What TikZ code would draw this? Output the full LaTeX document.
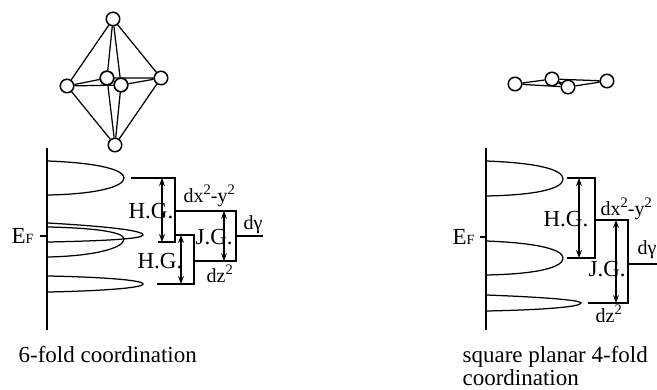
\documentclass[tikz,border=0pt]{standalone}
\usepackage{fontspec}
\setmainfont{Liberation Serif}
\usetikzlibrary{arrows.meta}
\newcommand{\sqr}{\raisebox{8.5pt}{\fontsize{14.5}{14.5}\selectfont 2}}

\begin{document}
\begin{tikzpicture}[>=Stealth, x=1pt, y=-1pt, line width=1.25pt,
    atom/.style={circle,draw,fill=white,inner sep=0pt,minimum size=13.5pt,line width=1.5pt},
    lbl/.style={anchor=base west,inner sep=0pt,font=\fontsize{20}{20}\selectfont},
    gaplbl/.style={anchor=base west,inner sep=0pt,font=\fontsize{23}{23}\selectfont},
    captext/.style={anchor=base west,inner sep=0pt,font=\fontsize{23}{23}\selectfont},
    gap/.style={<->,line width=1.1pt}]
  \useasboundingbox (0,0) rectangle (657,390);
  \clip (0,0) rectangle (657,390);
  % octahedron (left)
  \node[atom] (top) at (113,19) {};
  \node[atom] (bot) at (115,145) {};
  \node[atom] (lft) at (67,86) {};
  \node[atom] (rgt) at (161,78) {};
  \node[atom] (bck) at (107,78) {};
  \node[atom] (frt) at (121,85) {};
  \draw (top)--(lft) (top)--(rgt) (top)--(bck) (top)--(frt);
  \draw (bot)--(lft) (bot)--(rgt) (bot)--(bck) (bot)--(frt);
  \draw (lft)--(bck) (lft)--(frt) (rgt)--(bck) (rgt)--(frt) (bck)--(frt);
  \node[atom] (bck2) at (107,78) {};
  \node[atom] (frt2) at (121,85) {};
  % square planar (right)
  \node[atom] (sl) at (515,84) {};
  \node[atom] (sb) at (552,79) {};
  \node[atom] (sf) at (568,87) {};
  \node[atom] (sr) at (607,81) {};
  \draw (sl)--(sb) (sl)--(sf) (sb)--(sr) (sf)--(sr);
  \draw[line width=2.5pt] (sb)--(sf);
  % DOS axis, 6-fold
  \coordinate (ax1) at (47,148);
  \coordinate (ax2) at (47,330);
  \draw (ax1)--(ax2);
  \draw (48,161) .. controls (100,163) and (124,170) .. (124,178) .. controls (124,186) and (100,194) .. (48,195);
  \draw (48,223) .. controls (100,226) and (143,230) .. (143,235) .. controls (143,239) and (100,241) .. (48,242);
  \draw (48,227) .. controls (95,228) and (124,232) .. (124,239) .. controls (124,248) and (95,256) .. (48,257);
  \draw (48,276) .. controls (100,277) and (143,280) .. (143,284) .. controls (143,288) and (100,291) .. (48,292);
  \coordinate (ef1) at (40,236);
  \coordinate (ef1r) at (47,236);
  \draw (ef1)--(ef1r);
  % gaps, 6-fold
  \coordinate (a1) at (131,178);
  \coordinate (a2) at (175,178);
  \coordinate (a3) at (175,242);
  \coordinate (a4) at (158,242);
  \draw (a1)--(a2)--(a3)--(a4);
  \coordinate (h1t) at (162,178);
  \coordinate (h1b) at (162,242);
  \draw[gap] (h1t)--(h1b);
  \coordinate (b1) at (175,235);
  \coordinate (b2) at (194,235);
  \coordinate (b3) at (194,284);
  \coordinate (b4) at (157,284);
  \draw (b1)--(b2)--(b3)--(b4);
  \coordinate (h2t) at (181,235);
  \coordinate (h2b) at (181,284);
  \draw[gap] (h2t)--(h2b);
  \coordinate (c1) at (176,211);
  \coordinate (c2) at (236,211);
  \coordinate (c3) at (236,261);
  \coordinate (c4) at (194,261);
  \draw (c1)--(c2)--(c3)--(c4);
  \coordinate (j1t) at (224,211);
  \coordinate (j1b) at (224,261);
  \draw[gap] (j1t)--(j1b);
  \coordinate (d1) at (236,236);
  \coordinate (d2) at (263,236);
  \draw (d1)--(d2);
  % labels, 6-fold
  \node[lbl] (ef) at (11,244) {\fontsize{23}{23}\selectfont E\fontsize{14}{14}\selectfont F};
  \node[gaplbl] (hg1) at (128,219) {H.G.};
  \node[gaplbl] (hg2) at (137,269) {H.G.};
  \node[gaplbl] (jg1) at (195,245) {J.G.};
  \node[lbl] (dx1) at (183,203) {dx\sqr-y\sqr};
  \node[lbl] (dg1) at (243,230) {dγ};
  \node[lbl] (dz1) at (206,283) {dz\sqr};
  \node[captext] (cp1) at (18,363) {6-fold coordination};
  % DOS axis, square planar
  \coordinate (ax3) at (486,148);
  \coordinate (ax4) at (486,330);
  \draw (ax3)--(ax4);
  \draw (486,161) .. controls (540,163) and (563,170) .. (563,179) .. controls (563,188) and (540,195) .. (486,196);
  \draw (486,241) .. controls (540,243) and (563,250) .. (563,258) .. controls (563,267) and (540,274) .. (486,275);
  \draw (486,295) .. controls (540,297) and (581,300) .. (581,303) .. controls (581,307) and (540,310) .. (486,311);
  \coordinate (ef2) at (480,237);
  \coordinate (ef2r) at (486,237);
  \draw (ef2)--(ef2r);
  % gaps, square planar
  \coordinate (e1) at (567,178);
  \coordinate (e2) at (595,178);
  \coordinate (e3) at (595,258);
  \coordinate (e4) at (567,258);
  \draw (e1)--(e2)--(e3)--(e4);
  \coordinate (h3t) at (579,178);
  \coordinate (h3b) at (579,258);
  \draw[gap] (h3t)--(h3b);
  \coordinate (f1) at (595,220);
  \coordinate (f2) at (628,220);
  \coordinate (f3) at (628,303);
  \coordinate (f4) at (588,303);
  \draw (f1)--(f2)--(f3)--(f4);
  \coordinate (j2t) at (616,220);
  \coordinate (j2b) at (616,303);
  \draw[gap] (j2t)--(j2b);
  \coordinate (g1) at (628,264);
  \coordinate (g2) at (657,264);
  \draw (g1)--(g2);
  % labels, square planar
  \node[lbl] (ef3) at (452,245) {\fontsize{23}{23}\selectfont E\fontsize{14}{14}\selectfont F};
  \node[gaplbl] (hg3) at (543,227) {H.G.};
  \node[gaplbl] (jg2) at (588,277) {J.G.};
  \node[lbl] (dx2) at (600,216) {dx\sqr-y\sqr};
  \node[lbl] (dg2) at (637,255) {dγ};
  \node[lbl] (dz2) at (595,323) {dz\sqr};
  \node[captext] (cp2) at (462,363) {square planar 4-fold};
  \node[captext] (cp3) at (462,386) {coordination};
\end{tikzpicture}
\end{document}
